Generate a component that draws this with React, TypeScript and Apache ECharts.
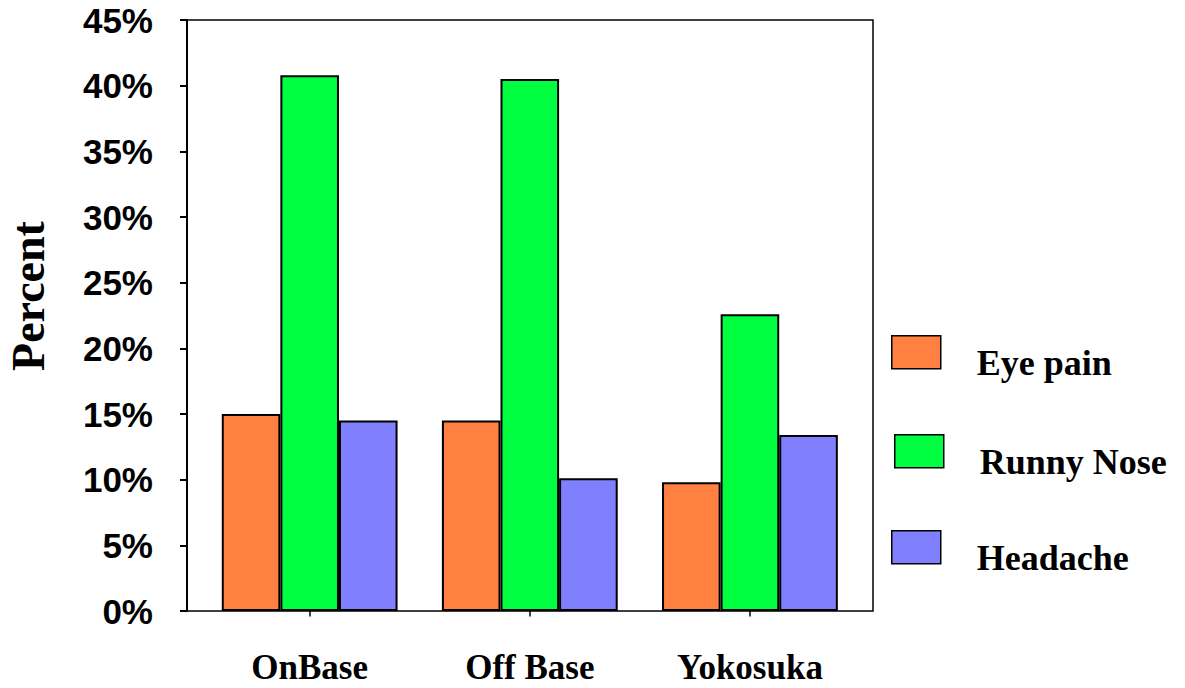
import React, { useEffect, useRef } from "react";
import * as echarts from "echarts";

// Survey results by location
const categories = ["OnBase", "Off Base", "Yokosuka"];
const eyePain = [15.0, 14.5, 9.8];
const runnyNose = [40.8, 40.5, 22.6];
const headache = [14.5, 10.1, 13.4];
const seriesNames = ["Eye pain", "Runny Nose", "Headache"];
const seriesColors = ["#FF8040", "#00FF40", "#8080FF"];

const SERIF = "'Liberation Serif', 'Times New Roman', serif";
const SANS = "'Liberation Sans', Arial, sans-serif";

export default function App() {
  const ref = useRef<HTMLDivElement>(null);

  useEffect(() => {
    if (!ref.current) return;
    const chart = echarts.init(ref.current, null, { renderer: "svg" });

    const values = [eyePain, runnyNose, headache];
    const legendPos = [
      { left: 891, top: 335 },
      { left: 894, top: 434 },
      { left: 891, top: 530 },
    ];

    chart.setOption({
      animation: false,
      backgroundColor: "#ffffff",
      grid: [
        // framed plotting area
        {
          left: 187,
          top: 20,
          width: 686,
          height: 591,
          show: true,
          borderColor: "#000",
          borderWidth: 1.5,
          backgroundColor: "transparent",
        },
        // bar groups
        { left: 199.6, top: 20, width: 660.4, height: 591 },
      ],
      xAxis: [
        { type: "value", gridIndex: 0, show: false, min: 0, max: 1 },
        {
          type: "category",
          gridIndex: 1,
          data: categories,
          offset: 27,
          axisLine: { show: false },
          axisTick: {
            show: true,
            alignWithLabel: true,
            length: 5.5,
            lineStyle: { color: "#000", width: 1.5 },
          },
          axisLabel: {
            margin: 14,
            lineHeight: 30,
            color: "#000",
            fontFamily: SERIF,
            fontWeight: "bold",
            fontSize: 35,
          },
        },
      ],
      yAxis: [
        {
          type: "value",
          gridIndex: 0,
          min: 0,
          max: 45,
          interval: 5,
          axisLine: { show: true, lineStyle: { color: "#000", width: 2 } },
          axisTick: {
            show: true,
            inside: false,
            length: 7,
            lineStyle: { color: "#000", width: 2 },
          },
          splitLine: { show: false },
          axisLabel: {
            margin: 34,
            color: "#000",
            fontFamily: SANS,
            fontWeight: "bold",
            fontSize: 35,
            formatter: "{value}%",
          },
        },
        { type: "value", gridIndex: 1, min: 0, max: 45, show: false },
      ],
      legend: seriesNames.map((name, i) => ({
        data: [name],
        orient: "vertical",
        left: legendPos[i].left,
        top: legendPos[i].top,
        padding: 0,
        icon: "rect",
        itemWidth: 49,
        itemHeight: 33,
        selectedMode: false,
        itemStyle: { borderColor: "#000", borderWidth: 1.5 },
        formatter: "{t|{name}}",
        textStyle: {
          color: "#000",
          fontFamily: SERIF,
          fontWeight: "bold",
          fontSize: 36,
          rich: {
            t: {
              color: "#000",
              fontFamily: SERIF,
              fontWeight: "bold",
              fontSize: 36,
              padding: [22, 0, 0, 31],
            },
          },
        },
      })),
      graphic: [
        {
          type: "text",
          x: 28,
          y: 296,
          rotation: Math.PI / 2,
          style: {
            text: "Percent",
            fill: "#000",
            font: `bold 46px ${SERIF}`,
            align: "center",
            verticalAlign: "middle",
          },
        },
      ],
      series: seriesNames.map((name, i) => ({
        name,
        type: "bar",
        xAxisIndex: 1,
        yAxisIndex: 1,
        data: values[i],
        barWidth: 58.6,
        barGap: "0%",
        itemStyle: {
          color: seriesColors[i],
          borderColor: "#000",
          borderWidth: 2,
        },
      })),
    });

    return () => chart.dispose();
  }, []);

  return (
    <div
      ref={ref}
      style={{ position: "fixed", left: 0, top: 0, width: 1185, height: 688 }}
    />
  );
}
